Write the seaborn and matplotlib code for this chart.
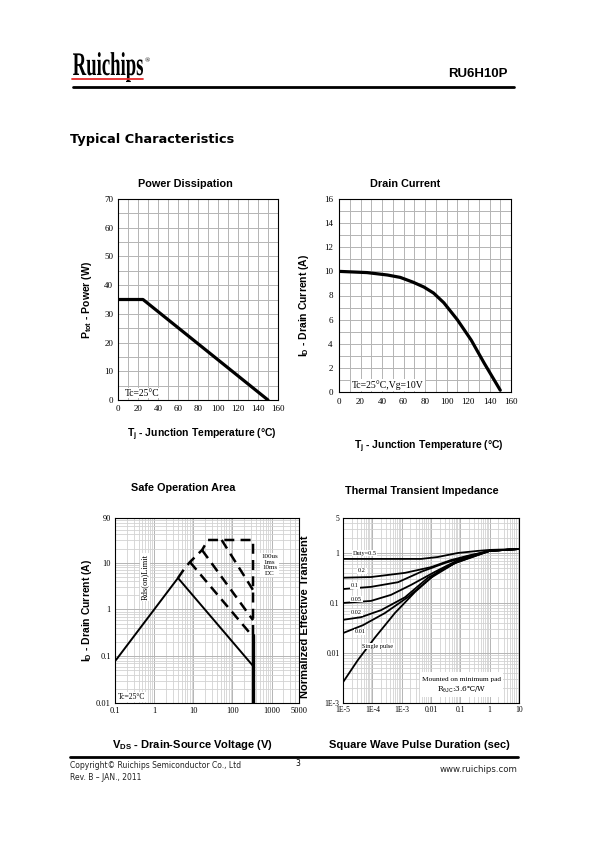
import numpy as np
import matplotlib
matplotlib.use("Agg")
import matplotlib.pyplot as plt
import matplotlib.transforms as mtransforms
import seaborn as sns
from matplotlib.lines import Line2D
from matplotlib.patches import PathPatch, Rectangle
from matplotlib.textpath import TextPath
from matplotlib.font_manager import FontProperties
from matplotlib.ticker import MultipleLocator, LogLocator, FixedLocator, NullFormatter

# ---------------- data ----------------
# power dissipation
pd_tj = [0, 25, 150]
pd_ptot = [35, 35, 0]

# drain current vs junction temperature
id_tj = [0, 26, 45, 57, 69, 79, 88, 97.5, 110, 123, 135, 150]
id_amp = [10.0, 9.9, 9.7, 9.5, 9.1, 8.7, 8.2, 7.4, 6.0, 4.3, 2.4, 0.15]

# safe operation area
soa_dc_v = [0.106, 4.06, 335]
soa_dc_i = [0.083, 4.7, 0.062]
soa_rds_v = [4.06, 6.1, 8.2, 16.7, 23.7, 335, 335]
soa_rds_i = [4.7, 7.7, 10.3, 18.6, 30.5, 30.5, 0.28]
soa_100us_v = [53, 335]
soa_100us_i = [30.5, 2.6]
soa_1ms_v = [16.7, 335]
soa_1ms_i = [18.6, 0.59]
soa_10ms_v = [8.2, 335]
soa_10ms_i = [10.3, 0.26]
soa_vmax_v = [335, 335]
soa_vmax_i = [0.28, 0.01]

# thermal transient impedance
zth_d05_t = [1e-5, 4.6e-3, 1.7e-2, 8.3e-2, 0.4, 1, 10]
zth_d05_z = [0.76, 0.76, 0.83, 1.0, 1.1, 1.15, 1.2]
zth_d02_t = [1e-5, 9e-5, 1.3e-3, 1e-2, 4.8e-2, 0.23, 1, 10]
zth_d02_z = [0.32, 0.33, 0.40, 0.52, 0.72, 0.91, 1.1, 1.2]
zth_d01_t = [1e-5, 9e-5, 7.5e-4, 4.6e-3, 3e-2, 0.145, 1, 10]
zth_d01_z = [0.19, 0.21, 0.26, 0.42, 0.63, 0.83, 1.1, 1.2]
zth_d005_t = [1e-5, 9e-5, 4.3e-4, 2.1e-3, 1.37e-2, 8.3e-2, 1, 10]
zth_d005_z = [0.10, 0.11, 0.145, 0.23, 0.42, 0.72, 1.1, 1.2]
zth_d002_t = [1e-5, 4.1e-5, 2e-4, 1.3e-3, 7.9e-3, 6.6e-2, 1, 10]
zth_d002_z = [0.046, 0.052, 0.072, 0.13, 0.32, 0.63, 1.1, 1.2]
zth_d001_t = [1e-5, 4.8e-5, 2.7e-4, 1.6e-3, 1e-2, 6.6e-2, 1, 10]
zth_d001_z = [0.025, 0.036, 0.063, 0.13, 0.32, 0.63, 1.1, 1.2]
zth_single_t = [1e-5, 3.2e-5, 1.2e-4, 5.9e-4, 2.85e-3, 1.7e-2, 0.105, 1, 10]
zth_single_z = [0.0026, 0.0072, 0.02, 0.063, 0.166, 0.42, 0.72, 1.1, 1.2]

soa_xticks = [0.1, 1, 10, 100, 1000, 5000]
soa_xlabels = ["0.1", "1", "10", "100", "1000", "5000"]
soa_yticks = [0.01, 0.1, 1, 10, 90]
soa_ylabels = ["0.01", "0.1", "1", "10", "90"]
zth_xticks = [1e-5, 1e-4, 1e-3, 1e-2, 1e-1, 1, 10]
zth_xlabels = ["1E-5", "1E-4", "1E-3", "0.01", "0.1", "1", "10"]
zth_yticks = [1e-3, 1e-2, 1e-1, 1, 5]
zth_ylabels = ["1E-3", "0.01", "0.1", "1", "5"]

# ---------------- style ----------------
sns.set_style("white")
plt.rcParams['font.family'] = ['Liberation Sans', 'DejaVu Sans']
plt.rcParams['text.color'] = 'black'
plt.rcParams['xtick.color'] = 'black'
plt.rcParams['ytick.color'] = 'black'
plt.rcParams['mathtext.fontset'] = 'custom'
plt.rcParams['mathtext.rm'] = 'Liberation Sans'
plt.rcParams['mathtext.bf'] = 'Liberation Sans:bold'
plt.rcParams['mathtext.it'] = 'Liberation Sans:italic'

SERIF = 'Liberation Serif'
GRID_MAJ = '#b4b4b4'
GRID_MIN = '#d2d2d2'

W, H = 598, 842
fig = plt.figure(figsize=(W / 100, H / 100), dpi=100)


def fx(px):
    return px / W


def fy(py):
    return 1 - py / H


def px_axes(l, t, r, b):
    return fig.add_axes([l / W, 1 - b / H, (r - l) / W, (b - t) / H])


def frame(ax, pad):
    ax.set_axisbelow(True)
    ax.tick_params(which='both', length=0, labelsize=6.5, labelfontfamily=SERIF, pad=pad)
    for s in ax.spines.values():
        s.set_visible(True)
        s.set_color('black')
        s.set_linewidth(0.8)


def line(ax, x, y, lw, ls='-'):
    sns.lineplot(x=x, y=y, ax=ax, color='black', lw=lw, linestyle=ls,
                 estimator=None, sort=False, legend=False)


def fig_label(x, y, s, rot=0, size=7.5):
    fig.text(fx(x), fy(y), s, ha='center', va='center', rotation=rot,
             fontsize=size, fontweight='bold', color='black')


box = dict(facecolor='white', edgecolor='none', pad=0.6)

# ---------------- header / footer ----------------
fig.add_artist(Line2D([fx(72), fx(143)], [fy(79), fy(79)], color='#e52b2b', lw=1.3,
                      transform=fig.transFigure))
tp = TextPath((0, 0), "Ruichips", size=1, prop=FontProperties(family=SERIF, weight='bold'))
ext = tp.get_extents()
logo_tr = (mtransforms.Affine2D().translate(-ext.x0, 0)
           .scale(70 / ext.width / W, 33 / H).translate(fx(73), fy(75)) + fig.transFigure)
fig.add_artist(PathPatch(tp, facecolor='black', edgecolor='none', transform=logo_tr))
fig.text(fx(145), fy(61), "®", fontsize=5, family=SERIF, va='center')
fig.text(fx(508), fy(74), "RU6H10P", ha='right', va='center', fontsize=9.5, fontweight='bold')
fig.add_artist(Line2D([fx(73), fx(514)], [fy(87), fy(87)], color='black', lw=2.0,
                      transform=fig.transFigure))
fig.text(fx(70), fy(140), "Typical Characteristics", ha='left', va='center', fontsize=9.3,
         fontweight='bold', family='DejaVu Sans')

fig.add_artist(Line2D([fx(70), fx(518)], [fy(757), fy(757)], color='black', lw=2.0,
                      transform=fig.transFigure))
fig.text(fx(70), fy(765), "Copyright© Ruichips Semiconductor Co., Ltd", ha='left', va='center',
         fontsize=5.5, family='DejaVu Sans', color='#222222')
fig.text(fx(70), fy(777), "Rev. B – JAN., 2011", ha='left', va='center',
         fontsize=5.5, family='DejaVu Sans', color='#222222')
fig.text(fx(298), fy(763), "3", ha='center', va='center', fontsize=5.5, family='DejaVu Sans')
fig.text(fx(518), fy(769), "www.ruichips.com", ha='right', va='center',
         fontsize=6.2, family='DejaVu Sans', color='#222222')

# ---------------- Power Dissipation ----------------
ax1 = px_axes(118, 199, 278, 400)
line(ax1, pd_tj, pd_ptot, 2.3)
ax1.set_xlim(0, 160)
ax1.set_ylim(0, 70)
ax1.xaxis.set_major_locator(MultipleLocator(20))
ax1.xaxis.set_minor_locator(MultipleLocator(10))
ax1.yaxis.set_major_locator(MultipleLocator(10))
ax1.yaxis.set_minor_locator(MultipleLocator(5))
ax1.grid(which='both', color=GRID_MAJ, lw=0.7)
frame(ax1, 3.5)
ax1.set_xlabel("")
ax1.set_ylabel("")
ax1.text(0.045, 0.012, "Tc=25°C", transform=ax1.transAxes, ha='left', va='bottom',
         fontsize=6.9, family=SERIF, bbox=box)
fig_label(185, 184, "Power Dissipation", size=7.8)
fig_label(87, 300, r"$\mathbf{P_{tot}}$ - Power (W)", rot=90)
fig_label(202, 435, r"$\mathbf{T_j}$ - Junction Temperature (°C)")

# ---------------- Drain Current ----------------
ax2 = px_axes(339, 199, 511, 392)
line(ax2, id_tj, id_amp, 2.3)
ax2.set_xlim(0, 160)
ax2.set_ylim(0, 16)
ax2.xaxis.set_major_locator(MultipleLocator(20))
ax2.xaxis.set_minor_locator(MultipleLocator(10))
ax2.yaxis.set_major_locator(MultipleLocator(2))
ax2.yaxis.set_minor_locator(MultipleLocator(1))
ax2.grid(which='both', color=GRID_MAJ, lw=0.7)
frame(ax2, 4.5)
ax2.set_xlabel("")
ax2.set_ylabel("")
ax2.text(0.075, 0.012, "Tc=25°C,Vg=10V", transform=ax2.transAxes, ha='left', va='bottom',
         fontsize=7, family=SERIF, bbox=box)
fig_label(405, 184, "Drain Current", size=7.8)
fig_label(304, 305, r"$\mathbf{I_D}$ - Drain Current (A)", rot=90)
fig_label(429, 447, r"$\mathbf{T_j}$ - Junction Temperature (°C)")

# ---------------- Safe Operation Area ----------------
ax3 = px_axes(115, 518, 299, 703)
line(ax3, soa_dc_v, soa_dc_i, 1.4)
line(ax3, soa_rds_v, soa_rds_i, 1.8, ls=(0, (4, 2.5)))
line(ax3, soa_100us_v, soa_100us_i, 1.8, ls=(0, (4, 2.5)))
line(ax3, soa_1ms_v, soa_1ms_i, 1.8, ls=(0, (4, 2.5)))
line(ax3, soa_10ms_v, soa_10ms_i, 1.8, ls=(0, (4, 2.5)))
line(ax3, soa_vmax_v, soa_vmax_i, 2.4)
ax3.set_xscale('log')
ax3.set_yscale('log')
ax3.set_xlim(0.1, 5000)
ax3.set_ylim(0.01, 90)
ax3.xaxis.set_major_locator(FixedLocator(soa_xticks))
ax3.set_xticklabels(soa_xlabels)
ax3.yaxis.set_major_locator(FixedLocator(soa_yticks))
ax3.set_yticklabels(soa_ylabels)
for axis in (ax3.xaxis, ax3.yaxis):
    axis.set_minor_locator(LogLocator(base=10, subs=np.arange(2, 10), numticks=30))
    axis.set_minor_formatter(NullFormatter())
ax3.grid(which='major', color=GRID_MAJ, lw=0.7)
ax3.grid(which='minor', color=GRID_MIN, lw=0.6)
frame(ax3, 3.0)
ax3.tick_params(labelsize=6)
ax3.set_xlabel("")
ax3.set_ylabel("")
ax3.text(0.163, 0.68, "Rds(on)Limit", transform=ax3.transAxes, rotation=90, ha='center',
         va='center', fontsize=6, family=SERIF, bbox=box)
ax3.text(0.84, 0.746, "100us\n1ms\n10ms\nDC", transform=ax3.transAxes, ha='center',
         va='center', fontsize=5, family=SERIF, linespacing=1.15, bbox=box)
ax3.text(0.015, 0.01, "Tc=25°C", transform=ax3.transAxes, ha='left', va='bottom',
         fontsize=5.5, family=SERIF, bbox=box)
fig_label(183, 488, "Safe Operation Area", size=7.8)
fig_label(87, 610, r"$\mathbf{I_D}$ - Drain Current (A)", rot=90)
fig_label(193, 745, r"$\mathbf{V_{DS}}$ - Drain-Source Voltage (V)", size=8)

# ---------------- Thermal Transient Impedance ----------------
ax4 = px_axes(343, 518, 519, 703)
for t, z in [(zth_d05_t, zth_d05_z), (zth_d02_t, zth_d02_z), (zth_d01_t, zth_d01_z),
             (zth_d005_t, zth_d005_z), (zth_d002_t, zth_d002_z), (zth_d001_t, zth_d001_z),
             (zth_single_t, zth_single_z)]:
    line(ax4, t, z, 1.3)
ax4.set_xscale('log')
ax4.set_yscale('log')
ax4.set_xlim(1e-5, 10)
ax4.set_ylim(1e-3, 5)
ax4.xaxis.set_major_locator(FixedLocator(zth_xticks))
ax4.set_xticklabels(zth_xlabels)
ax4.yaxis.set_major_locator(FixedLocator(zth_yticks))
ax4.set_yticklabels(zth_ylabels)
for axis in (ax4.xaxis, ax4.yaxis):
    axis.set_minor_locator(LogLocator(base=10, subs=np.arange(2, 10), numticks=30))
    axis.set_minor_formatter(NullFormatter())
ax4.grid(which='major', color=GRID_MAJ, lw=0.7)
ax4.grid(which='minor', color=GRID_MIN, lw=0.6)
frame(ax4, 2.5)
ax4.tick_params(labelsize=5.5)
ax4.set_xlabel("")
ax4.set_ylabel("")
small = dict(transform=ax4.transAxes, ha='left', va='center', fontsize=4.5, family=SERIF)
ax4.text(0.055, 0.81, "Duty=0.5", bbox=box, **small)
ax4.text(0.085, 0.714, "0.2", bbox=box, **small)
ax4.text(0.045, 0.635, "0.1", bbox=box, **small)
ax4.text(0.045, 0.562, "0.05", bbox=box, **small)
ax4.text(0.045, 0.49, "0.02", bbox=box, **small)
ax4.text(0.065, 0.384, "0.01", bbox=box, **small)
ax4.text(0.11, 0.308, "Single pulse", bbox=box, **small)
ax4.add_patch(Rectangle((0.4375, 0.032), 0.47, 0.136, transform=ax4.transAxes,
                        facecolor='white', edgecolor='none', zorder=3))
ax4.text(0.676, 0.128, "Mounted on minimum pad", transform=ax4.transAxes, ha='center',
         va='center', fontsize=5.3, family=SERIF, zorder=4)
ax4.text(0.676, 0.072, r"R$_{\mathrm{\theta JC}}$:3.6℃/W", transform=ax4.transAxes,
         ha='center', va='center', fontsize=5.3, family='DejaVu Serif', zorder=4)
fig_label(422, 491, "Thermal Transient Impedance", size=7.8)
fig_label(305, 617, "Normalized Effective Transient", rot=90, size=8)
fig_label(419, 745, "Square Wave Pulse Duration (sec)", size=8)

fig.savefig("out.png", dpi=100, facecolor='white')
